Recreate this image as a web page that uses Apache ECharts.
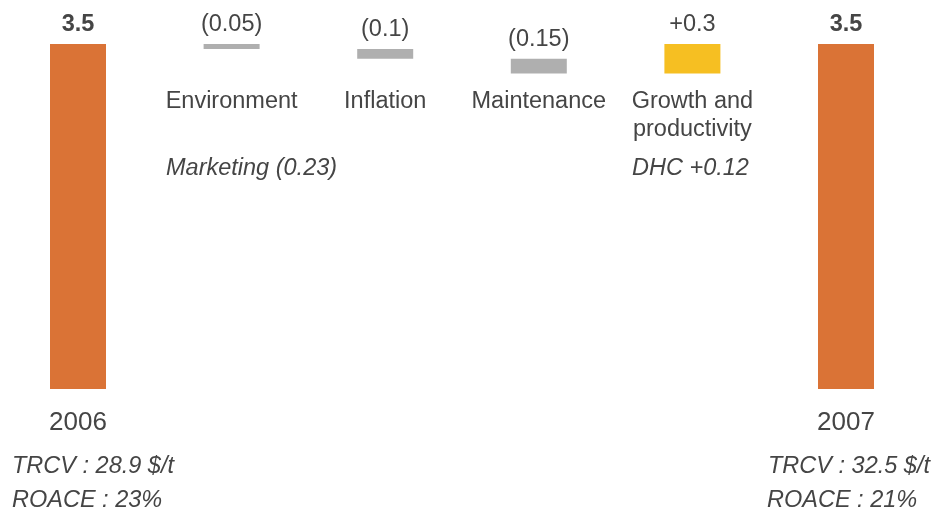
<!DOCTYPE html>
<html>
<head>
<meta charset="utf-8">
<script src="https://cdn.jsdelivr.net/npm/echarts@6/dist/echarts.min.js"></script>
<style>
html,body{margin:0;padding:0;background:#fff;}
#c{width:935px;height:510px;}
</style>
</head>
<body>
<div id="c"></div>
<script>
// ---- data ----
const categories = ['2006', 'Environment', 'Inflation', 'Maintenance', 'Growth and\nproductivity', '2007'];
const deltas = [3.5, -0.05, -0.1, -0.15, 0.3, 3.5];
const isTotal = [true, false, false, false, false, true];
const valueLabels = ['3.5', '(0.05)', '(0.1)', '(0.15)', '+0.3', '3.5'];
const noteMarketing = 'Marketing (0.23)';
const noteDHC = 'DHC +0.12';
const notes2006 = ['TRCV : 28.9 $/t', 'ROACE : 23%'];
const notes2007 = ['TRCV : 32.5 $/t', 'ROACE : 21%'];

// ---- style ----
const ORANGE = '#DA7336';
const GRAY = '#AFAFAF';
const YELLOW = '#F6BF22';
const TEXT = '#454545';
const FONT = '"Liberation Sans", Arial, sans-serif';
const FS = 23.5;

// ---- waterfall build ----
const base = [], heights = [];
let running = 0;
deltas.forEach((d, i) => {
  if (isTotal[i]) { base.push(0); heights.push(d); running = d; }
  else if (d < 0) { running += d; base.push(+running.toFixed(4)); heights.push(-d); }
  else { base.push(+running.toFixed(4)); heights.push(d); running += d; }
});
const barData = heights.map((h, i) => ({
  value: h,
  itemStyle: { color: isTotal[i] ? ORANGE : (deltas[i] < 0 ? GRAY : YELLOW) },
  label: { fontWeight: isTotal[i] ? 'bold' : 'normal' }
}));

const chart = echarts.init(document.getElementById('c'), null, { renderer: 'canvas' });
const italic = { fontFamily: FONT, fontSize: FS, fontStyle: 'italic', fill: TEXT };
chart.setOption({
  animation: false,
  grid: { left: 1.2, right: 12.2, top: 44, bottom: 121 },
  xAxis: [
    {
      type: 'category', data: categories, position: 'bottom',
      axisLine: { show: false }, axisTick: { show: false },
      axisLabel: {
        interval: 0, margin: 21, fontSize: 26, color: TEXT, fontFamily: FONT,
        formatter: (v, i) => isTotal[i] ? v : ''
      }
    },
    {
      type: 'category', data: categories, position: 'top', offset: -44,
      axisLine: { show: false }, axisTick: { show: false },
      axisLabel: {
        interval: 0, margin: 0, verticalAlign: 'top', lineHeight: 28,
        fontSize: FS, color: TEXT, fontFamily: FONT,
        formatter: (v, i) => isTotal[i] ? '' : v
      }
    }
  ],
  yAxis: { type: 'value', min: 0, max: 3.5, show: false },
  series: [
    { type: 'bar', stack: 'w', data: base, barWidth: 56, silent: true,
      itemStyle: { color: 'transparent' } },
    { type: 'bar', stack: 'w', data: barData, barWidth: 56,
      label: { show: true, position: 'top', distance: 7, fontSize: FS, color: TEXT, fontFamily: FONT,
        formatter: p => valueLabels[p.dataIndex] } }
  ],
  graphic: [
    { type: 'text', left: 166, top: 157, style: Object.assign({ text: noteMarketing }, italic) },
    { type: 'text', left: 632, top: 157, style: Object.assign({ text: noteDHC }, italic) },
    { type: 'text', left: 12, top: 455, style: Object.assign({ text: notes2006[0] }, italic) },
    { type: 'text', left: 12, top: 489, style: Object.assign({ text: notes2006[1] }, italic) },
    { type: 'text', left: 768, top: 455, style: Object.assign({ text: notes2007[0] }, italic) },
    { type: 'text', left: 767, top: 489, style: Object.assign({ text: notes2007[1] }, italic) }
  ]
});
</script>
</body>
</html>
